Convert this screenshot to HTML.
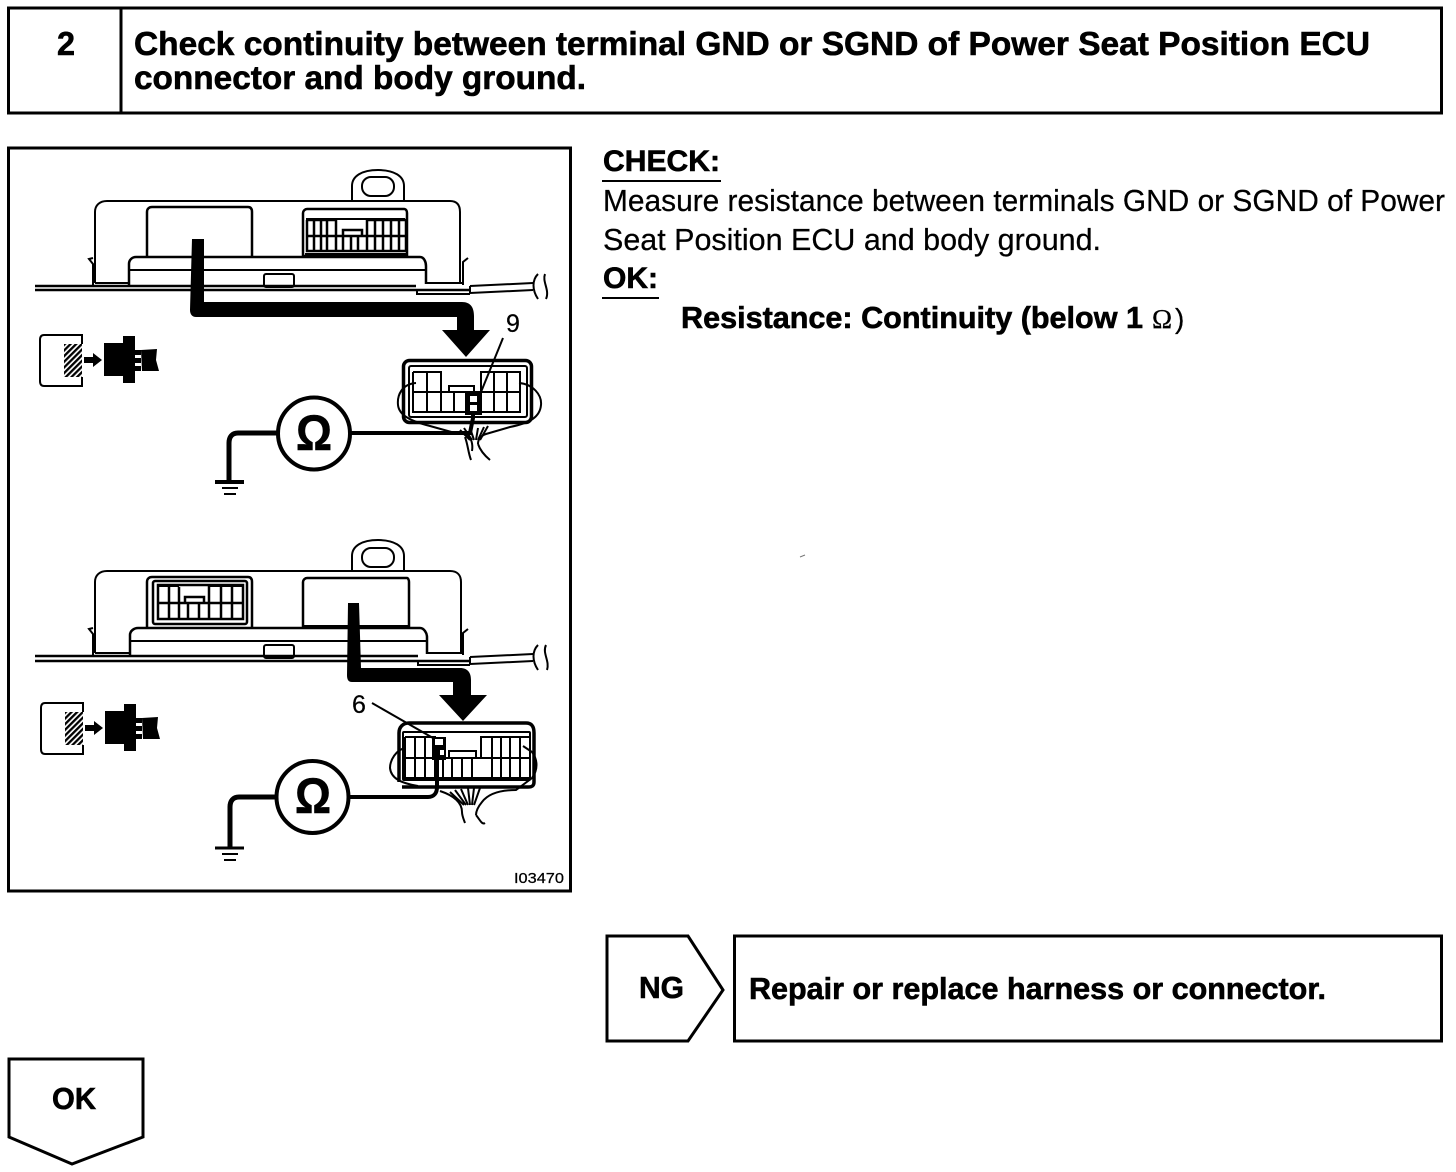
<!DOCTYPE html>
<html>
<head>
<meta charset="utf-8">
<style>
html,body{margin:0;padding:0;background:#fff}
svg{display:block}
text{font-family:"Liberation Sans",Arial,sans-serif;fill:#000;stroke:#000;stroke-width:.25px}
.b{font-weight:bold;stroke-width:.6px}
</style>
</head>
<body>
<svg xmlns="http://www.w3.org/2000/svg" width="1456" height="1172" viewBox="0 0 1456 1172">
<defs>
<pattern id="h" width="4" height="4" patternUnits="userSpaceOnUse" patternTransform="rotate(45)">
<rect width="4" height="4" fill="#fff"/><rect width="2.3" height="4" fill="#000"/>
</pattern>
</defs>
<rect width="1456" height="1172" fill="#fff"/>

<!-- Header -->
<rect x="8.5" y="8" width="1433" height="105" fill="none" stroke="#000" stroke-width="3"/>
<line x1="121" y1="8" x2="121" y2="113" stroke="#000" stroke-width="3"/>
<text class="b" x="57" y="55" font-size="33" textLength="18" lengthAdjust="spacingAndGlyphs">2</text>
<text class="b" x="134" y="55" font-size="33" textLength="1236" lengthAdjust="spacingAndGlyphs">Check continuity between terminal GND or SGND of Power Seat Position ECU</text>
<text class="b" x="134" y="89" font-size="33" textLength="452" lengthAdjust="spacingAndGlyphs">connector and body ground.</text>

<!-- Right text -->
<text class="b" x="603" y="171" font-size="30" textLength="117" lengthAdjust="spacingAndGlyphs">CHECK:</text>
<line x1="602" y1="181" x2="721" y2="181" stroke="#000" stroke-width="2"/>
<text x="603" y="211" font-size="31" textLength="842" lengthAdjust="spacingAndGlyphs">Measure resistance between terminals GND or SGND of Power</text>
<text x="603" y="250" font-size="31" textLength="498" lengthAdjust="spacingAndGlyphs">Seat Position ECU and body ground.</text>
<text class="b" x="603" y="288" font-size="30" textLength="55" lengthAdjust="spacingAndGlyphs">OK:</text>
<line x1="602" y1="298" x2="659" y2="298" stroke="#000" stroke-width="2"/>
<text class="b" x="681" y="328" font-size="31" textLength="462" lengthAdjust="spacingAndGlyphs">Resistance: Continuity (below 1</text>
<text x="1152" y="328" font-size="27" style="font-family:'Liberation Serif',serif">Ω</text>
<text x="1175" y="328" font-size="28">)</text>
<line x1="800" y1="557" x2="805" y2="555" stroke="#777" stroke-width="1"/>

<!-- NG -->
<path d="M607 936H688L723 990 688 1041H607Z" fill="#fff" stroke="#000" stroke-width="3"/>
<rect x="734.500" y="936" width="707" height="105" fill="#fff" stroke="#000" stroke-width="3"/>
<text class="b" x="639" y="998" font-size="31" textLength="45" lengthAdjust="spacingAndGlyphs">NG</text>
<text class="b" x="749" y="999" font-size="31" textLength="577" lengthAdjust="spacingAndGlyphs">Repair or replace harness or connector.</text>

<!-- OK -->
<path d="M9 1059H143V1137L72 1164 9 1137Z" fill="#fff" stroke="#000" stroke-width="3"/>
<text class="b" x="52" y="1109" font-size="31" textLength="44" lengthAdjust="spacingAndGlyphs">OK</text>

<!-- Diagram frame -->
<rect x="8.500" y="148" width="562" height="743" fill="#fff" stroke="#000" stroke-width="3"/>

<g fill="none" stroke="#000" stroke-width="2">
<!-- ========== TOP DIAGRAM ========== -->
<path d="M352 200V186C352 176 362 170 378 170 394 170 404 176 404 186V200"/>
<rect x="362" y="177" width="32" height="19" rx="9"/>
<path d="M95 283V212C95 205 100 201 107 201H450C457 201 460 205 460 212V283"/>
<path d="M147 257V212C147 209 149 207 152 207H248C251 207 252 209 252 212V257" stroke-width="2.5"/>
<path d="M129 285V264C129 260 132 257 136 257H420C424 257 426 262 426 266V284" stroke-width="2.5"/>
<line x1="130" y1="270" x2="426" y2="270"/>
<rect x="264" y="274" width="30" height="13" rx="2" fill="#fff"/>
<path d="M35 286H416M35 290H470" stroke-width="2.5"/>
<path d="M95 283H129M426 283H462"/>
<path d="M93 285V264L89 259 93 258M463 285V262L468 258"/>
<path d="M417 291V294H470M470 286 533 283M470 293 533 290M470 286V293"/>
<path d="M538 274C532 280 532 290 538 299M545 274C542 282 550 290 546 299"/>

<!-- small connector top -->
<path d="M303 256V213C303 211 305 209 307 209H404C406 209 407 211 407 213V256Z" stroke-width="2.500"/>
<path d="M306 219H405M306 256V254H406"/>
<path d="M307 220H336V236M367 236V220H406V251H307V220M307 236H406M343 236V230H362V236" stroke-width="2.500"/>
<path d="M314 220V251M321 220V251M327 220V251M336 236V251M343 236V251M351 236V251M358 236V251M367 236V251M375 220V251M383 220V251M391 220V251M399 220V251" stroke-width="2.500"/>

<!-- top big connector -->
<rect x="403.500" y="360.500" width="128" height="62" rx="6" stroke-width="3.500"/>
<rect x="409" y="366" width="118" height="51" rx="2"/>
<path d="M413 372V412H520V372H481V392M413 372H441V392M413 392H520M441 392V412M449 392V386H474V392" stroke-width="2"/>
<path d="M427 372V412M441 372V392M454 392V412M467 392V412M494 372V412M507 372V412" stroke-width="2"/>
<path d="M416 383C402 384 397 395 398 405 399 415 410 421 430 426L455 433M519 383C533 384 542 395 541 405 540 417 530 423 510 427L486 434C480 436 478 440 478 444"/>
<path d="M465 433C472 437 473 445 472 451M478 444C480 450 484 455 490 460M465 437C468 445 468 452 471 460"/>
<path d="M460 430 470 440M464 428 472 440M470 428 474 440M478 428 476 440M484 427 478 440M488 426 480 440"/>
<line x1="503" y1="338" x2="481" y2="392" stroke-width="2"/>

<!-- top meter -->
<circle cx="314" cy="433.500" r="36" stroke-width="4"/>
<path d="M351 433H470L473 418V414" stroke-width="4"/>
<path d="M277 433H238C232 433 229 437 229 443V482" stroke-width="5"/>
<path d="M215 482H244" stroke-width="4"/>
<path d="M222 488H238M224 494H236" stroke-width="2"/>

<!-- ========== BOTTOM DIAGRAM ========== -->
<path d="M352 570V556C352 546 362 540 378 540 394 540 404 546 404 556V570"/>
<rect x="362" y="548" width="32" height="19" rx="9"/>
<path d="M95 653V582C95 575 100 571 107 571H450C457 571 461 575 461 582V653"/>
<path d="M147 627V582C147 579 149 577 152 577H248C251 577 252 579 252 582V627" stroke-width="2.500"/>
<path d="M303 627V582C303 580 305 578 307 578H407C408 578 409 580 409 582V627" stroke-width="2.500"/>
<path d="M303 626H409" stroke-width="2"/>
<path d="M130 656V635C130 631 134 628 138 628H420C424 628 427 633 427 637V654" stroke-width="2.500"/>
<line x1="130" y1="641" x2="427" y2="641"/>
<rect x="264" y="645" width="30" height="13" rx="2" fill="#fff"/>
<path d="M35 656H418M35 661H470" stroke-width="2.500"/>
<path d="M95 653H130M427 653H464"/>
<path d="M93 655V634L89 629 93 628M463 655V633L468 629"/>
<path d="M418 662V665H470M470 657 533 654M470 664 533 661M470 657V664"/>
<path d="M538 645C532 651 532 661 538 670M546 645C542 653 550 661 547 670"/>

<!-- small connector bottom -->
<rect x="153" y="581" width="94" height="43" rx="2" stroke-width="2.500"/>
<rect x="158" y="585" width="85" height="34" stroke-width="2.500"/>
<path d="M158 603H243M179 587V603M169 586V619M185 603V597H204V603M188 603V619M199 603V619M209 586V619M221 586V619M232 586V619M179 603V619" stroke-width="2.500"/>
<path d="M158 586H179M209 586H243" stroke-width="2"/>

<!-- bottom big connector -->
<path d="M399 782V733C399 727 403 723 409 723H526C532 723 534 727 534 733V782C534 786 532 787 528 787H402" stroke-width="3.500"/>
<rect x="403" y="732" width="127" height="48" rx="1"/>
<path d="M405 737V778H530V737H481V758M405 737H435V758M405 758H530M449 758V751H476V758" stroke-width="2"/>
<path d="M415 737V778M425 737V778M435 758V778M443 758V778M452 758V778M462 758V778M472 758V778M492 737V778M501 737V778M510 737V778M520 737V778" stroke-width="2"/>
<path d="M405 748C396 750 390 760 390 768 391 778 400 783 418 786M523 746 532 752C538 760 538 770 532 778L516 790C500 790 488 794 482 802 477 808 476 812 476 815"/>
<path d="M440 791C455 796 462 803 462 812 462 816 464 820 465 823M476 815C480 820 482 825 485 823"/>
<path d="M450 792 464 805M455 790 466 805M461 789 468 805M468 788 470 805M474 788 472 805M480 788 474 805"/>
<line x1="372" y1="703" x2="433" y2="738" stroke-width="2"/>

<!-- bottom meter -->
<circle cx="312.500" cy="797" r="36" stroke-width="4"/>
<path d="M350 797H428C434 797 437 793 437 787V758" stroke-width="4"/>
<path d="M275 797H239C233 797 230 801 230 807V848" stroke-width="5"/>
<path d="M215 848H244" stroke-width="3"/>
<path d="M222 854H238M224 860H236" stroke-width="2"/>
</g>

<!-- Selected terminals -->
<rect x="465" y="391" width="17" height="24" fill="#000"/>
<rect x="470" y="396" width="7" height="6" fill="#fff"/>
<rect x="470" y="405" width="7" height="6" fill="#fff"/>
<rect x="432" y="737" width="14" height="23" fill="#000"/>
<rect x="435" y="739" width="8" height="6" fill="#fff"/>
<rect x="440" y="750" width="4" height="5" fill="#fff"/>

<!-- Thick arrows -->
<path d="M192 239H204V302H462C471 302 474 308 474 316V330H490L466 357 442 330H457V317H196C192 317 190 314 190 310Z" fill="#000"/>
<path d="M348 603H359L361 668H460C468 668 471 673 471 680V695H487L463 721 439 695H453V682H352C348 682 347 679 347 675Z" fill="#000"/>

<!-- Connector-pull icons -->
<g>
<path d="M82 344V335H44C41 335 40 337 40 340V381C40 384 41 386 44 386H82V377" fill="none" stroke="#000" stroke-width="2"/>
<rect x="64" y="344" width="18" height="33" fill="url(#h)"/>
<path d="M84 357H93V353L102 360 93 367V363H84Z" fill="#000"/>
<path d="M104 343H123V336H135V383H123V376H104Z" fill="#000"/>
<rect x="135" y="350" width="6" height="5" fill="#000"/><rect x="135" y="358" width="6" height="5" fill="#000"/><rect x="135" y="366" width="6" height="5" fill="#000"/>
<path d="M141 350 157 349 156 360 159 371H142Z" fill="#000"/>
</g>
<g transform="translate(1,368)">
<path d="M82 344V335H44C41 335 40 337 40 340V381C40 384 41 386 44 386H82V377" fill="none" stroke="#000" stroke-width="2"/>
<rect x="64" y="344" width="18" height="33" fill="url(#h)"/>
<path d="M84 357H93V353L102 360 93 367V363H84Z" fill="#000"/>
<path d="M104 343H123V336H135V383H123V376H104Z" fill="#000"/>
<rect x="135" y="350" width="6" height="5" fill="#000"/><rect x="135" y="358" width="6" height="5" fill="#000"/><rect x="135" y="366" width="6" height="5" fill="#000"/>
<path d="M141 350 157 349 156 360 159 371H142Z" fill="#000"/>
</g>

<!-- Diagram labels -->
<text class="b" x="296" y="450" font-size="50" textLength="36" lengthAdjust="spacingAndGlyphs">Ω</text>
<text class="b" x="295" y="813" font-size="50" textLength="36" lengthAdjust="spacingAndGlyphs">Ω</text>
<text x="506" y="332" font-size="25">9</text>
<text x="352" y="713" font-size="25">6</text>
<text x="514" y="883" font-size="15" textLength="50" lengthAdjust="spacingAndGlyphs">I03470</text>
</svg>
</body>
</html>
